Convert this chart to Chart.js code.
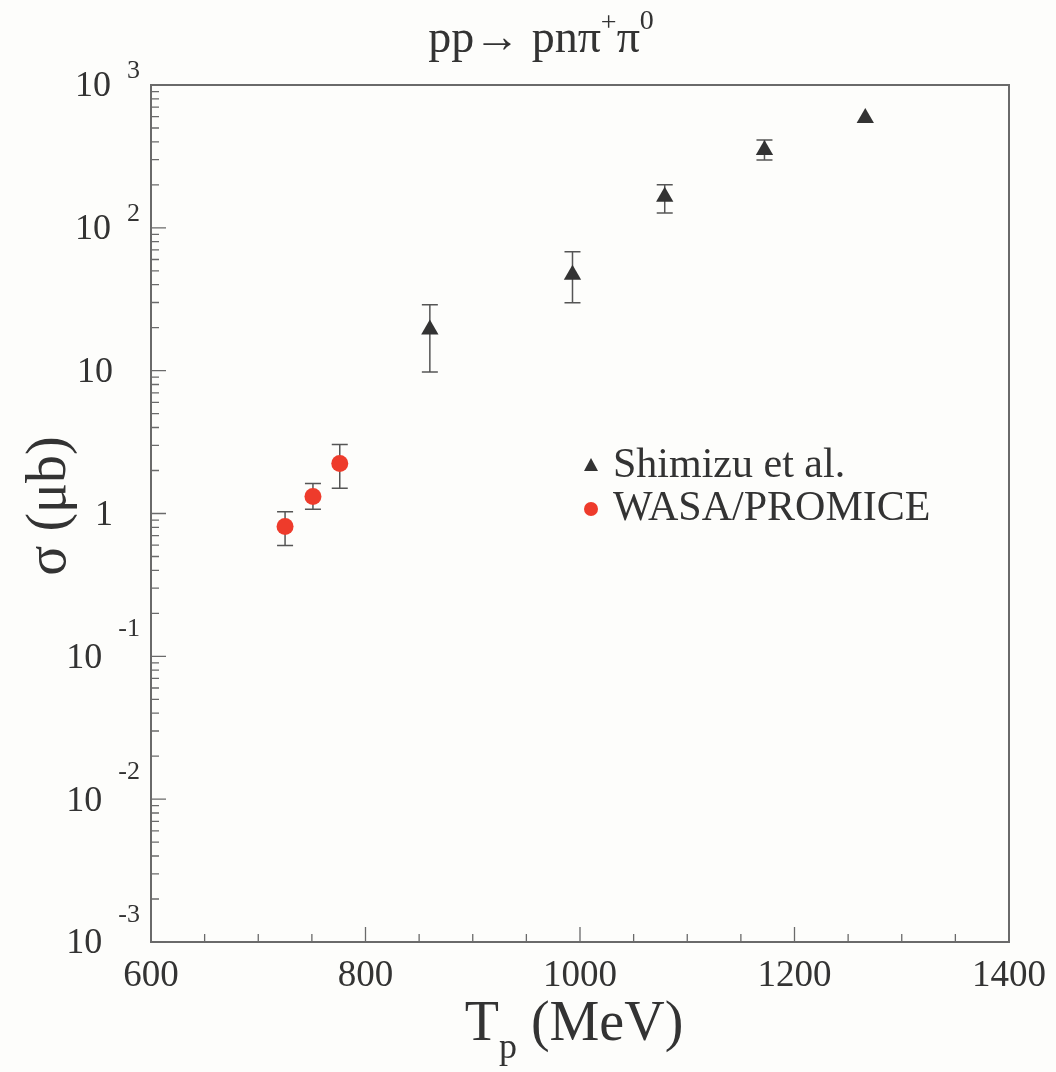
<!DOCTYPE html>
<html>
<head>
<meta charset="utf-8">
<script src="https://cdn.jsdelivr.net/npm/chart.js@4.4.0/dist/chart.umd.min.js"></script>
<style>
    html, body { margin: 0; background: #fdfdfb; }
    #wrap { width: 1056px; height: 1072px; }
</style>
</head>
<body>
<div id="wrap"><canvas id="xsChart" width="1056" height="1072"></canvas></div>
<script>
// Shimizu et al. (triangles)
const shimizuTp = [860, 993, 1079, 1172, 1266];
const shimizuSigma = [19.4, 47, 165, 350, 588];
const shimizuErrHi = [28.9, 67.9, 200, 412, null];
const shimizuErrLo = [9.8, 29.9, 127, 299, null];

// WASA/PROMICE (red dots)
const wasaTp = [725, 751, 776];
const wasaSigma = [0.81, 1.315, 2.24];
const wasaErrHi = [1.03, 1.62, 3.04];
const wasaErrLo = [0.597, 1.07, 1.5];

// axis ticks
const xLabels = [600, 800, 1000, 1200, 1400];
const yDecades = [-3, -2, -1, 0, 1, 2, 3];

const serif = '"Liberation Serif", "DejaVu Serif", serif';
const ink = "#333";

const errorBars = {
    id: "errorBars",
    beforeDatasetsDraw(chart) {
        const { ctx, scales: { x, y } } = chart;
        const sets = [
            [shimizuTp, shimizuErrLo, shimizuErrHi],
            [wasaTp, wasaErrLo, wasaErrHi],
        ];
        ctx.save();
        ctx.strokeStyle = "#555";
        ctx.lineWidth = 1.5;
        sets.forEach(([tp, lo, hi]) => {
            tp.forEach((t, i) => {
                if (lo[i] == null) return;
                const px = x.getPixelForValue(t);
                const y1 = y.getPixelForValue(lo[i]);
                const y2 = y.getPixelForValue(hi[i]);
                ctx.beginPath();
                ctx.moveTo(px, y1); ctx.lineTo(px, y2);
                ctx.moveTo(px - 8, y1); ctx.lineTo(px + 8, y1);
                ctx.moveTo(px - 8, y2); ctx.lineTo(px + 8, y2);
                ctx.stroke();
            });
        });
        ctx.restore();
    },
};

// frame, inward ticks, labels, legend, titles
const frame = {
    id: "frame",
    afterDraw(chart) {
        const { ctx, chartArea: a, scales: { x, y } } = chart;
        ctx.save();
        ctx.strokeStyle = "#6a6a6a";
        ctx.lineWidth = 2;
        ctx.strokeRect(a.left, a.top, a.right - a.left, a.bottom - a.top);

        // y ticks
        ctx.lineWidth = 1.3;
        ctx.beginPath();
        for (let e = -3; e <= 2; e++) {
            for (let m = 1; m <= 9; m++) {
                const py = y.getPixelForValue(m * Math.pow(10, e));
                const len = m === 1 ? 15 : 8;
                ctx.moveTo(a.left, py); ctx.lineTo(a.left + len, py);
            }
        }
        // x ticks
        for (let v = 650; v < 1400; v += 50) {
            const px = x.getPixelForValue(v);
            const len = v % 200 === 0 ? 15 : 8;
            ctx.moveTo(px, a.bottom); ctx.lineTo(px, a.bottom - len);
        }
        ctx.stroke();

        ctx.fillStyle = ink;
        ctx.textBaseline = "middle";

        // y tick labels
        yDecades.forEach(e => {
            const py = y.getPixelForValue(Math.pow(10, e));
            if (e === 0 || e === 1) {
                ctx.font = "36px " + serif;
                ctx.textAlign = "right";
                ctx.fillText(e === 0 ? "1" : "10", 113, py + 2);
                return;
            }
            ctx.font = "26px " + serif;
            ctx.textAlign = "right";
            const sup = String(e);
            const supW = ctx.measureText(sup).width;
            ctx.fillText(sup, 140, py + (e > 0 ? -14 : -27));
            ctx.font = "36px " + serif;
            ctx.fillText("10", 140 - supW - 16, py + 2);
        });

        // x tick labels
        ctx.font = "37px " + serif;
        ctx.textAlign = "center";
        xLabels.forEach(v => ctx.fillText(String(v), x.getPixelForValue(v), 976));

        // title
        ctx.textBaseline = "alphabetic";
        ctx.textAlign = "left";
        const parts = [
            ["pp\u2192 pn\u03c0", 46, 0],
            ["+", 28, -21],
            ["\u03c0", 46, 0],
            ["0", 28, -23],
        ];
        let tw = 0;
        parts.forEach(([t, s]) => { ctx.font = s + "px " + serif; tw += ctx.measureText(t).width; });
        let tx = 541 - tw / 2;
        parts.forEach(([t, s, dy]) => {
            ctx.font = s + "px " + serif;
            ctx.fillText(t, tx, 52 + dy);
            tx += ctx.measureText(t).width;
        });

        // x axis title
        ctx.font = "56px " + serif;
        const wT = ctx.measureText("T").width;
        const wRest = ctx.measureText(" (MeV)").width;
        ctx.font = "36px " + serif;
        const wp = ctx.measureText("p").width;
        let xx = 574 - (wT + wp + wRest) / 2;
        ctx.font = "56px " + serif;
        ctx.fillText("T", xx, 1040);
        ctx.font = "36px " + serif;
        ctx.fillText("p", xx + wT, 1058);
        ctx.font = "56px " + serif;
        ctx.fillText(" (MeV)", xx + wT + wp, 1040);

        // y axis title
        ctx.save();
        ctx.translate(50, 506);
        ctx.rotate(-Math.PI / 2);
        ctx.textAlign = "center";
        ctx.textBaseline = "middle";
        ctx.font = "56px " + serif;
        ctx.fillText("\u03c3 (\u03bcb)", 0, 0);
        ctx.restore();

        // legend
        ctx.textBaseline = "middle";
        ctx.textAlign = "left";
        ctx.font = "42px " + serif;
        ctx.fillStyle = ink;
        ctx.beginPath();
        ctx.moveTo(591, 458); ctx.lineTo(598, 471); ctx.lineTo(584, 471);
        ctx.closePath(); ctx.fill();
        ctx.fillText("Shimizu et al.", 613, 466);
        ctx.fillStyle = "#ee3b2b";
        ctx.beginPath(); ctx.arc(591, 509, 7, 0, Math.PI * 2); ctx.fill();
        ctx.fillStyle = ink;
        ctx.fillText("WASA/PROMICE", 613, 509);
        ctx.restore();
    },
};

new Chart(document.getElementById("xsChart"), {
    type: "scatter",
    data: {
        datasets: [
            {
                label: "Shimizu et al.",
                data: shimizuTp.map((t, i) => ({ x: t, y: shimizuSigma[i] })),
                pointStyle: "triangle",
                pointRadius: 10,
                backgroundColor: ink,
                borderColor: ink,
                borderWidth: 0,
            },
            {
                label: "WASA/PROMICE",
                data: wasaTp.map((t, i) => ({ x: t, y: wasaSigma[i] })),
                pointStyle: "circle",
                pointRadius: 8.5,
                backgroundColor: "#ee3b2b",
                borderColor: "#ee3b2b",
                borderWidth: 0,
            },
        ],
    },
    options: {
        responsive: false,
        animation: false,
        layout: { padding: { left: 151, top: 85, right: 47, bottom: 130 } },
        plugins: { legend: { display: false }, tooltip: { enabled: false } },
        scales: {
            x: { type: "linear", min: 600, max: 1400, display: false },
            y: { type: "logarithmic", min: 0.001, max: 1000, display: false },
        },
    },
    plugins: [errorBars, frame],
});
</script>
</body>
</html>
